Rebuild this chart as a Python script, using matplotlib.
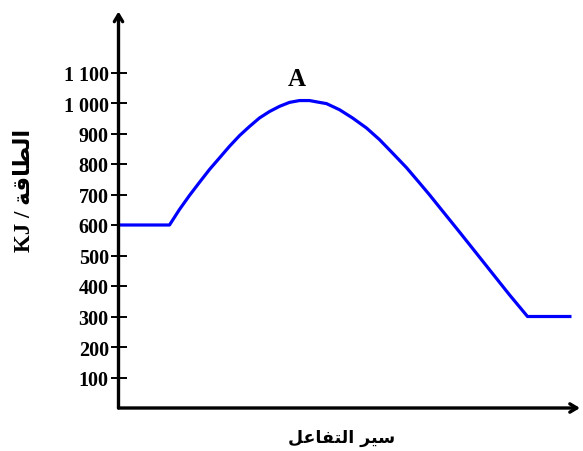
import matplotlib.pyplot as plt

# -------- DATA --------
# reaction progress (arbitrary units) and energy in kJ
progress = [0, 51, 61, 71, 81, 91, 101, 111, 121, 131, 141, 151, 161, 171, 181,
            191, 201, 208, 221, 234, 248, 261, 274, 288, 301, 311, 324, 341,
            358, 374, 391, 409, 453]
energy = [600, 600, 651, 697, 740, 782, 820, 858, 893, 923, 951, 972, 989, 1002,
          1008, 1008, 1002, 998, 978, 951, 918, 880, 836, 788, 738, 699, 646,
          577, 507, 441, 371, 300, 300]

y_ticks = [100, 200, 300, 400, 500, 600, 700, 800, 900, 1000, 1100]
y_tick_labels = ["100", "200", "300", "400", "500", "600", "700", "800", "900",
                 "1 000", "1 100"]

peak_label = "A"
peak_pos = (178, 1079)

# Arabic text in presentation forms, visual order (matplotlib has no shaping)
energy_word = "\uFE94\uFED7\uFE8E\uFEC4\uFEDF\uFE8D"          # الطاقة
progress_words = "\uFEDE\uFECB\uFE8E\uFED4\uFE98\uFEDF\uFE8D \uFEAE\uFEF4\uFEB3"  # سير التفاعل

# -------- FIGURE --------
fig = plt.figure(figsize=(5.83, 4.52), dpi=100)
ax = fig.add_axes([118.5 / 583, 43 / 452, 461.5 / 583, 396.5 / 452])
ax.set_xlim(0, 461.5)
ax.set_ylim(0, 1300)

ax.plot(progress, energy, color="#0000ff", linewidth=2.3, solid_capstyle="butt",
        solid_joinstyle="round", zorder=3)

for s in ax.spines.values():
    s.set_visible(False)

# axes drawn as arrows
arrow = dict(arrowstyle="->,head_length=0.5,head_width=0.3",
             lw=2.4, color="black", shrinkA=0, shrinkB=0)
ax.annotate("", xy=(1.0, 0), xytext=(0, 0), xycoords="axes fraction", arrowprops=arrow)
ax.annotate("", xy=(0, 1.0), xytext=(0, 0), xycoords="axes fraction", arrowprops=arrow)

ax.set_xticks([])
ax.set_yticks(y_ticks)
ax.set_yticklabels(y_tick_labels, fontfamily="Liberation Serif", fontweight="bold",
                   fontsize=14.5)
ax.tick_params(axis="y", direction="inout", length=12, width=1.4, pad=1)

ax.text(peak_pos[0], peak_pos[1], peak_label, fontfamily="Liberation Serif",
        fontweight="bold", fontsize=18, ha="center", va="center")

fig.text(25 / 583, 1 - 190 / 452, "KJ / " + energy_word, rotation=90,
         ha="center", va="center", fontsize=16.5, fontweight="bold",
         family=["Liberation Serif", "DejaVu Sans"])
fig.text(342 / 583, 1 - 438 / 452, progress_words, ha="center", va="center",
         fontsize=12.5, fontweight="bold", family="DejaVu Sans")

fig.savefig("out.png", dpi=100)
